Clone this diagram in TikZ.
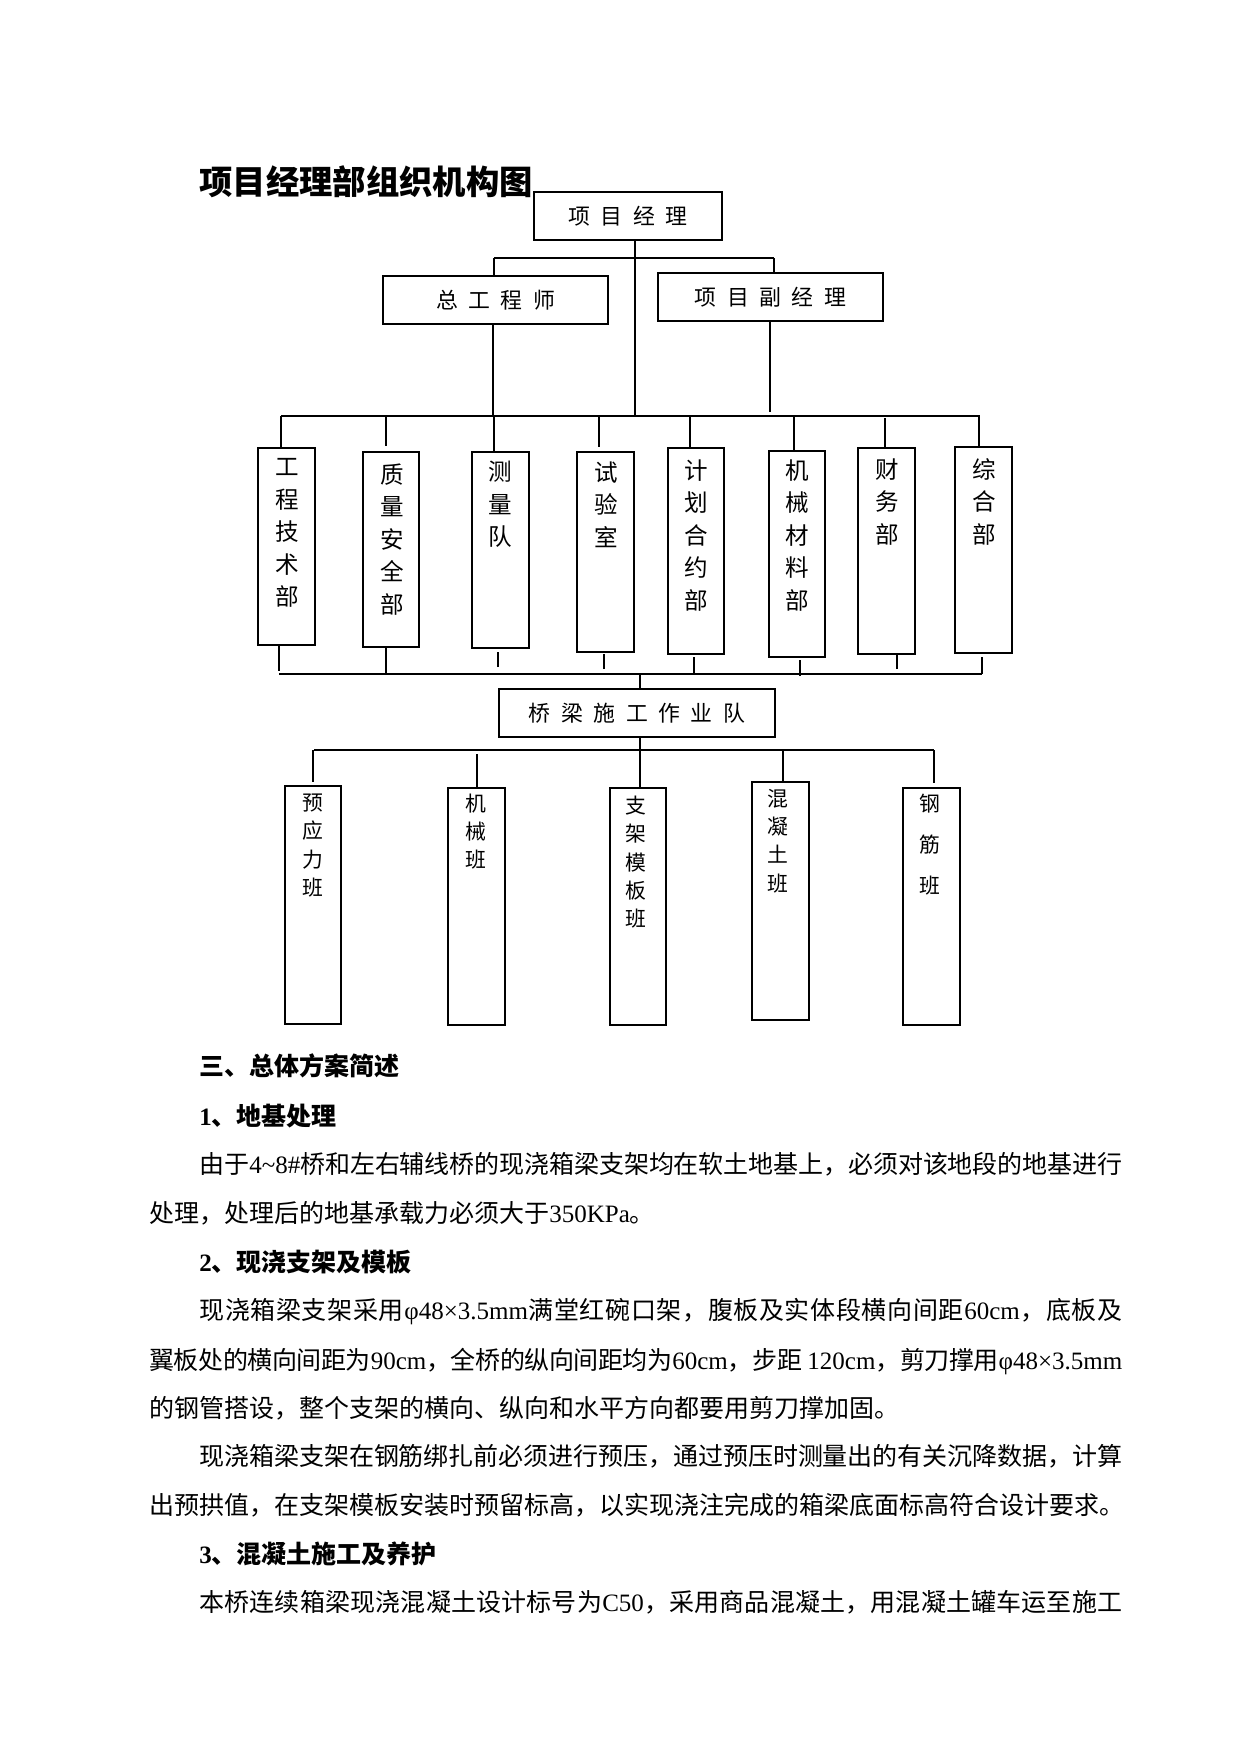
\documentclass[tikz,border=0pt]{standalone}
\usepackage{fontspec}
\setmainfont{Liberation Serif}
\newfontfamily\cjk{Noto Sans CJK SC}
\newcount\mycnt
\mycnt="4E00
\loop\ifnum\mycnt<"A000 \XeTeXcharclass\mycnt=200 \advance\mycnt by 1 \repeat
\XeTeXcharclass"FF0C=200 \XeTeXcharclass"3001=200 \XeTeXcharclass"3002=200
\XeTeXinterchartoks 200 200 = {\hskip 0pt plus 2pt minus 0.5pt\relax}
\newcommand\lat[1]{\hskip0pt plus 2pt{\rmfamily #1}\hskip0pt plus 2pt\relax}
\newcommand\jline[2]{\makebox[#1][s]{\XeTeXinterchartokenstate=1 #2}}
\newcommand\gap{\hspace{0.48em}}
\begin{document}
\begin{tikzpicture}[x=0.48pt,y=-0.48pt,
 box/.style 2 args={draw, line width=0.7pt, minimum width=#1*0.48pt, minimum height=#2*0.48pt, inner sep=0pt, outer sep=0pt},
 hb/.style={font=\cjk\fontsize{10.5pt}{12pt}\selectfont},
 vt/.style={font=\cjk\fontsize{11.3pt}{15.6pt}\selectfont, align=center, inner sep=0pt, anchor=north},
 vs/.style={font=\cjk\fontsize{10pt}{13.6pt}\selectfont, align=center, inner sep=0pt, anchor=north},
 tl/.style={anchor=base west, inner sep=0pt, font=\cjk\fontsize{12pt}{14pt}\selectfont},
 thk/.style={line width=1.2pt}, thn/.style={line width=0.5pt}, med/.style={line width=0.8pt}]
\fill[white] (0,0) rectangle (1241,1754);
\useasboundingbox (0,0) rectangle (1241,1754);

% title
\node[anchor=base west, inner sep=0pt, font=\cjk\bfseries\fontsize{16pt}{18pt}\selectfont] (title) at (199,194) {项目经理部组织机构图};

% top boxes
\node[box={188}{48}, hb] (pm) at (628,216) {项\gap 目\gap 经\gap 理\hspace{5.8pt}};
\node[box={225}{48}, hb] (ce) at (495.5,300) {总\gap 工\gap 程\gap 师};
\node[box={225}{48}, hb] (dpm) at (770.5,297) {项\gap 目\gap 副\gap 经\gap 理};

\coordinate (pmv) at (635,416);
\draw[thk] (pmv |- pm.south) -- (pmv);
\coordinate (hL) at (494,258);
\coordinate (hR) at (774,258);
\draw[thk] (hL) -- (hR);
\draw[thk] (hL) -- (hL |- ce.north);
\draw[thk] (hR) -- (hR |- dpm.north);
\coordinate (cev) at (493,416);
\draw[thk] (cev |- ce.south) -- (cev);
\coordinate (dpmv) at (770,412);
\draw[thk] (dpmv |- dpm.south) -- (dpmv);

% top bus
\coordinate (b1L) at (281,416);
\coordinate (b1R) at (980,416);
\draw[med] (b1L) -- (b1R);

% department boxes
\node[box={57}{197}] (d1) at (286.5,546.5) {};
\node[box={56}{195}] (d2) at (391,549.5) {};
\node[box={57}{196}] (d3) at (500.5,550) {};
\node[box={57}{200}] (d4) at (605.5,552) {};
\node[box={56}{206}] (d5) at (696,551) {};
\node[box={56}{206}] (d6) at (797,554) {};
\node[box={57}{206}] (d7) at (886.5,551) {};
\node[box={57}{206}] (d8) at (983.5,550) {};

\node[vt] (d1t) at (287,458) {工\\程\\技\\术\\部};
\node[vt] (d2t) at (392,463) {质\\量\\安\\全\\部};
\node[vt] (d3t) at (500,461) {测\\量\\队};
\node[vt] (d4t) at (606,461) {试\\验\\室};
\node[vt] (d5t) at (696,459) {计\\划\\合\\约\\部};
\node[vt] (d6t) at (797,459) {机\\械\\材\\料\\部};
\node[vt] (d7t) at (887,458) {财\\务\\部};
\node[vt] (d8t) at (984,458) {综\\合\\部};

% drops from top bus
\coordinate (t1) at (281,416);
\coordinate (t2) at (386,416);
\coordinate (t3) at (494,416);
\coordinate (t4) at (599,416);
\coordinate (t5) at (690,416);
\coordinate (t6) at (794,416);
\coordinate (t7) at (885,418);
\coordinate (t8) at (979,416);
\draw[thk] (t1) -- (t1 |- d1.north);
\draw[thk] (t2) -- ++(0,30);
\draw[thn] (t3) -- (t3 |- d3.north);
\draw[thk] (t4) -- ++(0,31);
\draw[thk] (t5) -- (t5 |- d5.north);
\draw[thn] (t6) -- (t6 |- d6.north);
\draw[thk] (t7) -- (t7 |- d7.north);
\draw[thk] (t8) -- (t8 |- d8.north);

% bottom bus
\coordinate (b2L) at (279,674);
\coordinate (b2R) at (982,674);
\draw[thk] (b2L) -- (b2R);
\coordinate (u1) at (279,671);
\coordinate (u2) at (386,674);
\coordinate (u3) at (498,667);
\coordinate (u4) at (604,669);
\coordinate (u5) at (694,674);
\coordinate (u6) at (800,676);
\coordinate (u7) at (897,669);
\coordinate (u8) at (982,674);
\draw[thk] (u1 |- d1.south) -- (u1);
\draw[med] (u2 |- d2.south) -- (u2);
\draw[thn] (u3) -- ++(0,-15);
\draw[thn] (u4) -- ++(0,-15);
\draw[thn] (u5) -- ++(0,-17);
\draw[thk] (u6) -- ++(0,-16);
\draw[thn] (u7) -- ++(0,-14);
\draw[thk] (u8) -- ++(0,-17);

% bridge team
\node[box={276}{48}, hb, line width=0.9pt] (team) at (637,713) {桥\gap 梁\gap 施\gap 工\gap 作\gap 业\gap 队};
\coordinate (tv) at (640,674);
\draw[thk] (tv) -- (tv |- team.north);

% lower bus
\coordinate (b3L) at (314,750);
\coordinate (b3R) at (934,750);
\coordinate (tmv) at (640,750);
\draw[thk] (tmv |- team.south) -- (tmv);
\draw[thk] (b3L) -- (b3R);

\node[box={56}{238}, line width=1.3pt] (b1) at (313,905) {};
\node[box={57}{237}, line width=0.9pt] (b2) at (476.5,906.5) {};
\node[box={56}{237}, line width=0.9pt] (b3) at (638,906.5) {};
\node[box={57}{238}, line width=0.9pt] (b4) at (780.5,901) {};
\node[box={57}{237}, line width=1.1pt] (b5) at (931.5,906.5) {};

\node[vs] (b1t) at (313,793.4) {预\\应\\力\\班};
\node[vs] (b2t) at (476,793.4) {机\\械\\班};
\node[vs] (b3t) at (636,795.4) {支\\架\\模\\板\\班};
\node[vs] (b4t) at (778,788.4) {混\\凝\\土\\班};
\node[vs, font=\cjk\fontsize{10pt}{19.7pt}\selectfont] (b5t) at (930,793.4) {钢\\筋\\班};

\coordinate (l1) at (313,750);
\coordinate (l2) at (477,754);
\coordinate (l3) at (640,750);
\coordinate (l4) at (783,750);
\coordinate (l5) at (934,750);
\draw[thk] (l1) -- ++(0,32);
\draw[thn] (l2) -- (l2 |- b2.north);
\draw[thk] (l3) -- (l3 |- b3.north);
\draw[thn] (l4) -- (l4 |- b4.north);
\draw[thk] (l5) -- ++(0,33);

% text body
\node[tl] (h3) at (199,1075) {\bfseries 三、总体方案简述};
\node[tl] (h31) at (199,1125.5) {\bfseries\lat{1}、地基处理};
\node[tl] (p1a) at (199,1173.5) {\jline{443pt}{由于\lat{4\textasciitilde 8\#}桥和左右辅线桥的现浇箱梁支架均在软土地基上，必须对该地段的地基进行}};
\node[tl] (p1b) at (149,1222.5) {处理，处理后的地基承载力必须大于\lat{350KPa}。};
\node[tl] (h32) at (199,1271.5) {\bfseries\lat{2}、现浇支架及模板};
\node[tl] (p2a) at (199,1319.5) {\jline{443pt}{现浇箱梁支架采用\lat{φ48×3.5mm}满堂红碗口架，腹板及实体段横向间距\lat{60cm}，底板及}};
\node[tl] (p2b) at (149,1369.5) {\jline{467pt}{翼板处的横向间距为\lat{90cm}，全桥的纵向间距均为\lat{60cm}，步距\lat{ 120cm}，剪刀撑用\lat{φ48×3.5mm}}};
\node[tl] (p2c) at (149,1417.5) {的钢管搭设，整个支架的横向、纵向和水平方向都要用剪刀撑加固。};
\node[tl] (p2d) at (199,1465.5) {\jline{443pt}{现浇箱梁支架在钢筋绑扎前必须进行预压，通过预压时测量出的有关沉降数据，计算}};
\node[tl] (p2e) at (149,1514.5) {出预拱值，在支架模板安装时预留标高，以实现浇注完成的箱梁底面标高符合设计要求。};
\node[tl] (h33) at (199,1563.5) {\bfseries\lat{3}、混凝土施工及养护};
\node[tl] (p3a) at (199,1611.5) {\jline{443pt}{本桥连续箱梁现浇混凝土设计标号为\lat{C50}，采用商品混凝土，用混凝土罐车运至施工}};
\end{tikzpicture}
\end{document}
